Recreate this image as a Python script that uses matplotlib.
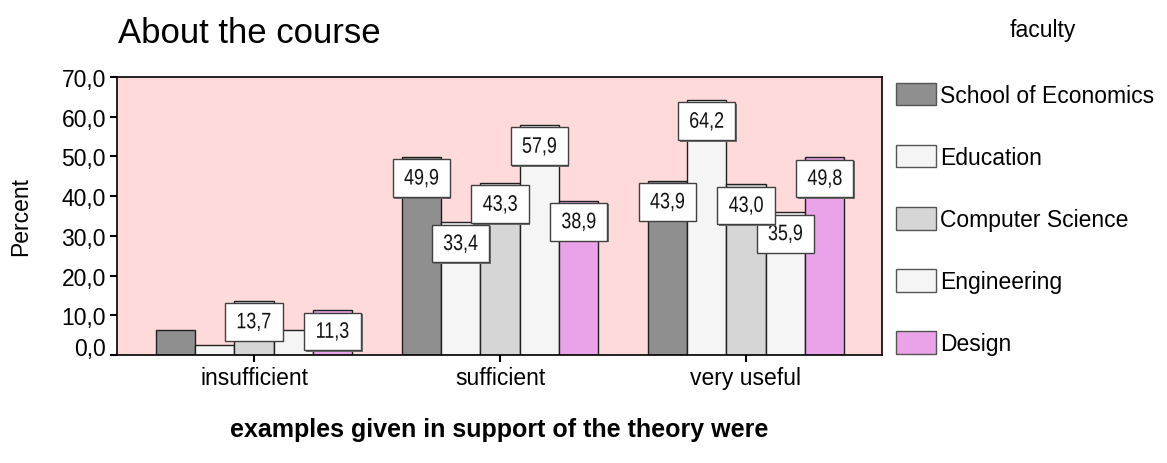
import numpy as np
import matplotlib
matplotlib.use("Agg")
import matplotlib.pyplot as plt
import matplotlib.transforms as mtransforms
from matplotlib.patches import Rectangle, Patch, PathPatch
from matplotlib.textpath import TextPath
from matplotlib.font_manager import FontProperties

categories = ["insufficient", "sufficient", "very useful"]
faculties = ["School of Economics", "Education", "Computer Science", "Engineering", "Design"]
economics = [6.2, 49.9, 43.9]
education = [2.4, 33.4, 64.2]
computer_science = [13.7, 43.3, 43.0]
engineering = [6.2, 57.9, 35.9]
design = [11.3, 38.9, 49.8]
yticks = [0, 10, 20, 30, 40, 50, 60, 70]

colors = ["#8f8f8f", "#f5f5f5", "#d6d6d6", "#f5f5f5", "#eaa3e8"]
bg = "#ffdada"

plt.rcParams["font.family"] = ["Liberation Sans", "DejaVu Sans"]

W, H = 1167, 464
fig = plt.figure(figsize=(W / 100, H / 100), dpi=100)
ax = fig.add_axes([117 / W, 1 - 356 / H, (882 - 117) / W, (356 - 78) / H])
ax.set_facecolor(bg)

series = [economics, education, computer_science, engineering, design]
x = np.arange(len(categories))
width = 0.16
box_w = 0.232
box_h = 9.5
label_font = FontProperties(family=["Liberation Sans", "DejaVu Sans"])


def narrow_label(px, py, s, z):
    # condensed look: squeeze a text path horizontally
    size = 22.4
    tp = TextPath((0, 0), s, size=size, prop=label_font)
    ext = tp.get_extents()
    cx = (ext.x0 + ext.x1) / 2
    cy = 0.716 * size / 2
    tr = (mtransforms.Affine2D().translate(-cx, -cy).scale(0.8, 1.0)
          + mtransforms.ScaledTranslation(px, py, ax.transData))
    ax.add_patch(PathPatch(tp, transform=tr, facecolor="#111111", edgecolor="none", zorder=z))


for i, vals in enumerate(series):
    pos = x + (i - 2) * width
    ax.bar(pos, vals, width, color=colors[i], edgecolor="#202020", linewidth=1.0, zorder=2)

# value boxes, later series first so earlier ones sit on top
for i in range(len(series) - 1, -1, -1):
    vals = series[i]
    pos = x + (i - 2) * width
    for px, v in zip(pos, vals):
        if v < 10:
            continue
        top = v - 0.6
        shadow = Rectangle((px - box_w / 2 + 0.006, top - box_h - 0.4), box_w, box_h,
                           facecolor="#707070", edgecolor="none", zorder=3 + (5 - i) * 3)
        ax.add_patch(shadow)
        rect = Rectangle((px - box_w / 2, top - box_h), box_w, box_h,
                         facecolor="white", edgecolor="#404040", linewidth=1.0,
                         zorder=4 + (5 - i) * 3)
        ax.add_patch(rect)
        narrow_label(px, top - box_h / 2 + 0.4, f"{v:.1f}".replace(".", ","), 5 + (5 - i) * 3)

ax.set_xlim(-0.557, 2.553)
ax.set_ylim(0, 70)
ax.set_yticks(yticks)
ax.set_yticklabels([f"{t:.1f}".replace(".", ",") for t in yticks], fontsize=16.5)
ax.set_xticks(x)
ax.set_xticklabels(categories, fontsize=16.5)
ax.tick_params(axis="both", direction="out", length=5, width=1.5, color="black", pad=3)
for s in ax.spines.values():
    s.set_linewidth(1.2)
    s.set_zorder(30)

# raise the zero label slightly like the original
lab0 = ax.get_yticklabels()[0]
lab0.set_transform(lab0.get_transform() + mtransforms.ScaledTranslation(0, 9 / 100, fig.dpi_scale_trans))

fig.text(118 / W, 1 - 43 / H, "About the course", fontsize=25, ha="left", va="baseline")
fig.text(1010 / W, 1 - 37 / H, "faculty", fontsize=16.5, ha="left", va="baseline")
fig.text(21 / W, 1 - 217 / H, "Percent", fontsize=16.5, rotation=90, ha="center", va="center")
fig.text(499.5 / W, 1 - 437 / H, "examples given in support of the theory were", fontsize=18,
         fontweight="bold", ha="center", va="baseline")

handles = [Patch(facecolor=c, edgecolor="#555555", linewidth=1.0) for c in colors]
fig.legend(handles, faculties, loc="upper left", bbox_to_anchor=(896 / W, 1 - 84 / H),
           frameon=False, fontsize=16.5, handlelength=1.74, handleheight=1.13,
           handletextpad=0.18, labelspacing=1.66, borderaxespad=0, borderpad=0)

fig.savefig("out.png", dpi=100)
